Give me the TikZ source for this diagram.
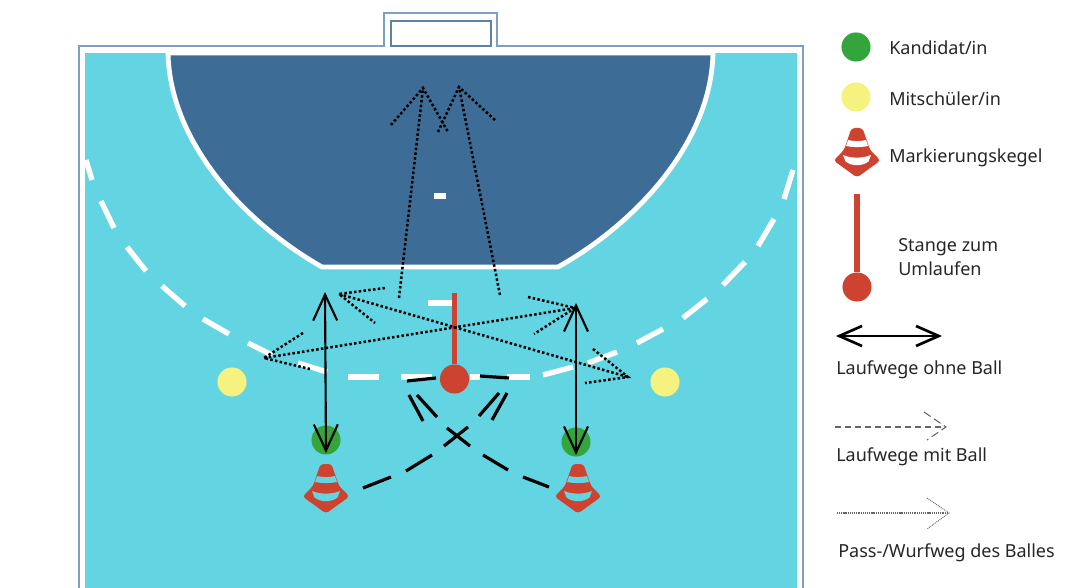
\documentclass[tikz,border=0pt]{standalone}
\usepackage{fontspec}
\setmainfont{Noto Sans}
\usetikzlibrary{arrows.meta}

\definecolor{feldBlau}{HTML}{63D5E2}
\definecolor{kreisBlau}{HTML}{3D6D96}
\definecolor{linieBlau}{HTML}{7F9FC2}
\definecolor{kegelRot}{HTML}{CE4230}
\definecolor{kandGruen}{HTML}{33A53B}
\definecolor{mitGelb}{HTML}{F6F27F}

\tikzset{
  person/.style={circle, minimum size=21.8pt, inner sep=0pt, fill=#1},
  legtext/.style={anchor=west, inner sep=0pt, font=\fontsize{13.5}{18}\selectfont, text=black!85},
  wegohne/.style={black, line width=1.6pt, <->},
  passweg/.style={black, line width=1.9pt, line cap=butt, dash pattern=on 1.9pt off 1.7pt},
  wegball/.style={black, line width=2.4pt},
  feldweiss/.style={white, line width=4pt},
  pics/kegel/.style={code={
    \fill[kegelRot, rounded corners=2.5pt] (-5.5,0) -- (5.5,0) -- (13,22) -- (23.5,32.5) -- (0,49.5) -- (-23.5,32.5) -- (-13,22) -- cycle;
    \fill[#1] (-9,12) .. controls (-3,13.5) and (3,13.5) .. (9,12) -- (11,18) .. controls (4,19.5) and (-4,19.5) .. (-11,18) -- cycle;
    \fill[#1] (-14,27) .. controls (-6,30.5) and (6,30.5) .. (14,27) -- (11.5,33.5) .. controls (5,38.5) and (-5,38.5) .. (-11.5,33.5) -- cycle;
  }},
}

\begin{document}
\begin{tikzpicture}[x=0.75pt, y=-0.75pt,
  >={Straight Barb[length=19.5pt,width=18pt]},
]
\useasboundingbox (0,0) rectangle (1065,588);

% ---------------- Feld ----------------
\fill[feldBlau] (85,53) rectangle (797,588);
\draw[linieBlau, line width=1.4pt] (79,588) -- (79,46) -- (384,46) -- (384,13) -- (497,13) -- (497,46) -- (803,46) -- (803,588);
\draw[kreisBlau!85, line width=1pt] (391,46) -- (391,21) -- (491,21) -- (491,46) -- cycle;

% Torraum
\filldraw[kreisBlau, draw=white, line width=3.6pt]
  (168,53) .. controls (170,145) and (248,225) .. (322,267) -- (558,267)
  .. controls (633,225) and (711,145) .. (713,53) -- cycle;
\fill[white] (85,48) rectangle (797,53);

% ---------------- Freiwurflinie ----------------
\foreach \xa/\ya/\xb/\yb in {86/160/92/180, 101/201/114/228, 127/247/146/271, 162/286/185/306,
  203/319/229/334, 248/343/272/355, 298/363/327/372, 348/377/379/377, 401/377/432/377,
  470/377/480/377, 507/377/530/377, 543/375/573/367, 588/363/617/352, 637/343/663/329,
  683/318/707/299, 723/285/745/262, 758/246/774/219, 784/199/793/170} {
  \draw[feldweiss] (\xa,\ya) -- (\xb,\yb);
}
\draw[white, line width=4.5pt] (434,196) -- (446,196);
\draw[white, line width=4.5pt] (428,303) -- (452,303);

% ---------------- Personen und Material ----------------
\node[person=mitGelb] (mitL) at (232,382) {};
\node[person=mitGelb] (mitR) at (665,382) {};
\node[person=kandGruen] (kandL) at (326,440) {};
\node[person=kandGruen] (kandR) at (576,442) {};
\pic at (326,464) {kegel=feldBlau};
\pic at (578,464) {kegel=feldBlau};

\node[person=kegelRot] (stange) at (454.5,379) {};
\coordinate (stangeTop) at (454.5,293);
\draw[kegelRot, line width=3.8pt] (stangeTop) -- (stange);

% ---------------- Laufwege ohne Ball ----------------
\coordinate (obenL) at (325,292);
\coordinate (untenL) at (326,453);
\coordinate (obenR) at (576,303);
\coordinate (untenR) at (576,455);
\draw[wegohne] (obenL) -- (untenL);
\draw[wegohne] (obenR) -- (untenR);

% ---------------- Laufwege mit Ball ----------------
\foreach \xa/\ya/\xb/\yb in {363/488/391/477, 406/471/432/455, 444/446/468/427, 479/416/499/393,
  492/420/507/393, 480/376/509/378, 549/487/523/477, 508/470/483/455, 470/446/447/428,
  437/417/417/395, 423/421/409/395, 436/378/407/381} {
  \draw[wegball] (\xa,\ya) -- (\xb,\yb);
}

% ---------------- Paesse und Wuerfe ----------------
\coordinate (passA) at (339,294);
\coordinate (passB) at (628,377);
\coordinate (passC) at (264,358);
\coordinate (passD) at (575,308);
\coordinate (wurfA) at (399,298);
\coordinate (wurfB) at (423,88);
\coordinate (wurfC) at (500,295);
\coordinate (wurfD) at (459,87);
\draw[passweg] (passA) -- (passB);
\draw[passweg] (passC) -- (passD);
\draw[passweg] (wurfA) -- (wurfB);
\draw[passweg] (wurfC) -- (wurfD);
% Pfeilspitzen
\foreach \tip/\xa/\ya/\xb/\yb in {passA/385/288/375/323, passB/593/349/585/383,
  passC/303/333/310/369, passD/528/297/534/334, wurfB/391/125/448/132, wurfD/438/132/496/121} {
  \draw[passweg] (\xa,\ya) -- (\tip) -- (\xb,\yb);
}

% ---------------- Legende ----------------
\node[person=kandGruen] (legKand) at (856,47) {};
\node[person=mitGelb] (legMit) at (856,97) {};
\pic at (857,128) {kegel=white};
\node[person=kegelRot] (legStange) at (857,287) {};
\coordinate (legStangeTop) at (857,194);
\draw[kegelRot, line width=3.8pt] (legStangeTop) -- (legStange);

\node[legtext] (txtKand) at (889,48) {Kandidat/in};
\node[legtext] (txtMit) at (889,99) {Mitschüler/in};
\node[legtext] (txtKegel) at (889,158) {Markierungskegel};
\node[legtext, align=left] (txtStange) at (898,257) {Stange zum\\Umlaufen};
\node[legtext] (txtOhne) at (836,370) {Laufwege ohne Ball};
\node[legtext] (txtMitBall) at (836,457) {Laufwege mit Ball};
\node[legtext] (txtPass) at (838,553) {Pass-/Wurfweg des Balles};

\coordinate (ohneA) at (836,336);
\coordinate (ohneB) at (942,336);
\draw[black, line width=2pt, {Straight Barb[length=17pt,width=15pt]}-{Straight Barb[length=17pt,width=15pt]}] (ohneA) -- (ohneB);

\coordinate (mitA) at (835,427);
\coordinate (mitB) at (946,427);
\draw[black!60, line width=0.8pt, dash pattern=on 4.5pt off 3pt] (mitA) -- (mitB);
\draw[black!60, line width=0.8pt, dash pattern=on 6pt off 3pt] (924,412) -- (mitB) -- (927,440);

\coordinate (passLegA) at (837,513);
\coordinate (passLegB) at (949,513);
\draw[black!60, line width=0.8pt, dash pattern=on 0.8pt off 0.6pt] (passLegA) -- (passLegB);
\draw[black!60, line width=0.6pt, dash pattern=on 0.8pt off 0.6pt] (927,498) -- (passLegB) -- (927,529);
\end{tikzpicture}
\end{document}
